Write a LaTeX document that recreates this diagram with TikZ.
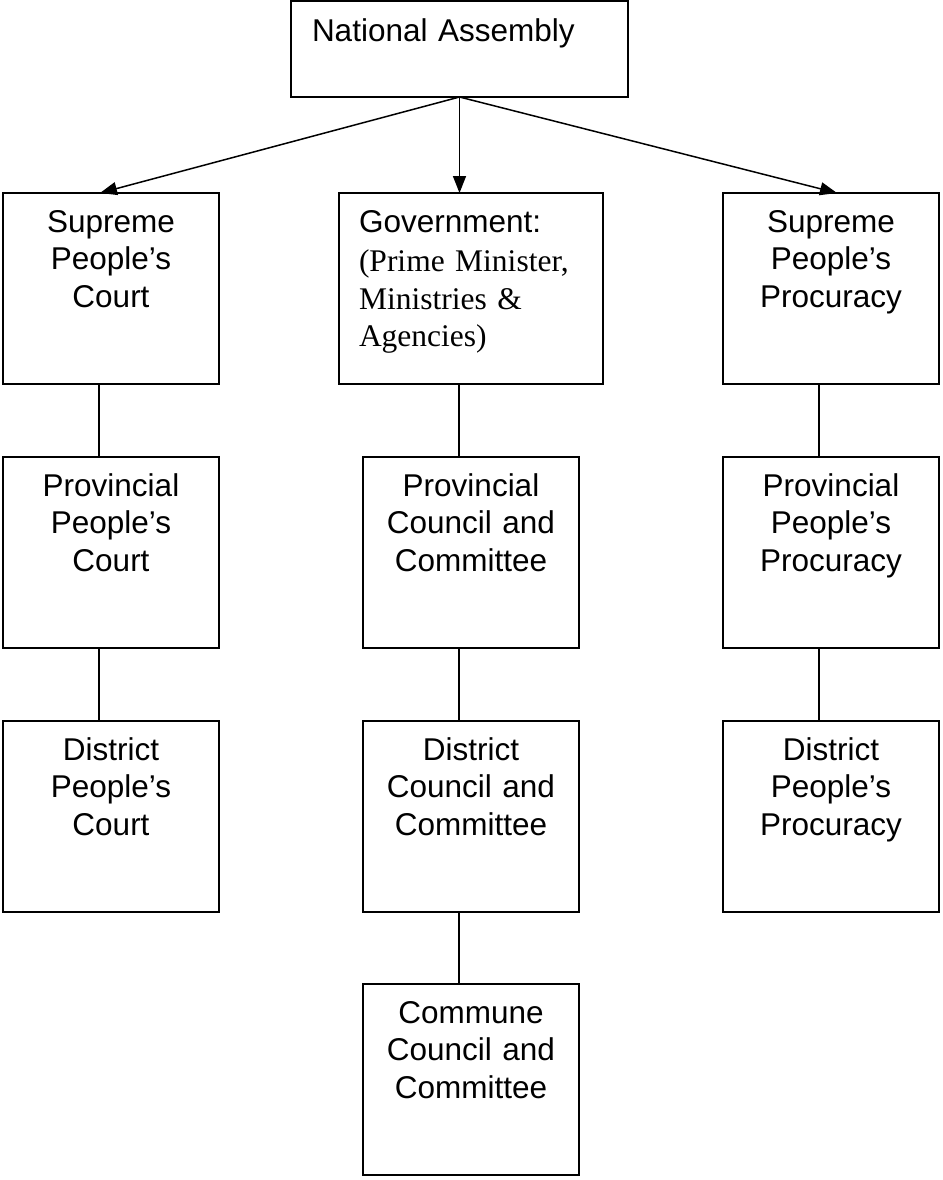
\documentclass[tikz,border=0pt]{standalone}
\usepackage{fontspec}
\setmainfont{Liberation Sans}
\newfontfamily\timesfont{Liberation Serif}
\usepackage{tikz}
\usetikzlibrary{positioning, arrows.meta}

\tikzset{
    organ/.style={draw, line width=1.6pt, inner sep=0pt, outer sep=0pt, anchor=north west,
        text width=216pt, minimum width=216pt, align=center,
        text height=39pt, text depth=152pt},
    link/.style={line width=1.5pt},
    arr/.style={line width=1.5pt, -{Triangle[length=17pt, width=13pt]}}
}

\begin{document}
\begin{tikzpicture}[x=1pt, y=-1pt, node distance=73pt,
        font=\fontsize{31.5}{37.5}\selectfont]
        \useasboundingbox (0,0) rectangle (942,1180);

        \node[organ, inner xsep=21pt, text width=295pt, minimum width=337pt,
            align=left, text height=41pt, text depth=55pt] (na) at (291,1) {National Assembly};

        \node[organ] (spc) at (3,193) {Supreme\\People’s\\Court};
        \node[organ, inner xsep=20pt, text width=224pt, minimum width=264pt,
            align=left] (gov) at (339,193)
            {Government:\\[2pt]\timesfont (Prime Minister,\\Ministries \&\\Agencies)};
        \node[organ] (spp) at (723,193) {Supreme\\People’s\\Procuracy};

        \node[organ, below=of spc.south west, anchor=north west] (ppc) {Provincial\\People’s\\Court};
        \node[organ, below=of ppc.south west, anchor=north west] (dpc) {District\\People’s\\Court};

        \node[organ] (pcc) at (363,457) {Provincial\\Council and\\Committee};
        \node[organ, below=of pcc.south west, anchor=north west] (dcc) {District\\Council and\\Committee};
        \node[organ, below=72pt of dcc.south west, anchor=north west] (ccc) {Commune\\Council and\\Committee};

        \node[organ, below=of spp.south west, anchor=north west] (ppp) {Provincial\\People’s\\Procuracy};
        \node[organ, below=of ppp.south west, anchor=north west] (dpp) {District\\People’s\\Procuracy};

        % arrows from the assembly
        \draw [arr] (na.south) -- ([xshift=-11pt]spc.north);
        \draw [arr] (na.south) -- (na.south |- gov.north);
        \draw [arr] (na.south) -- ([xshift=6pt]spp.north);

        % vertical links
        \foreach \a/\b in {spc/ppc, ppc/dpc, gov/pcc, pcc/dcc, dcc/ccc, spp/ppp, ppp/dpp}
            \draw [link] ([xshift=-12pt]\b.north |- \a.south) -- ([xshift=-12pt]\b.north);
\end{tikzpicture}
\end{document}
